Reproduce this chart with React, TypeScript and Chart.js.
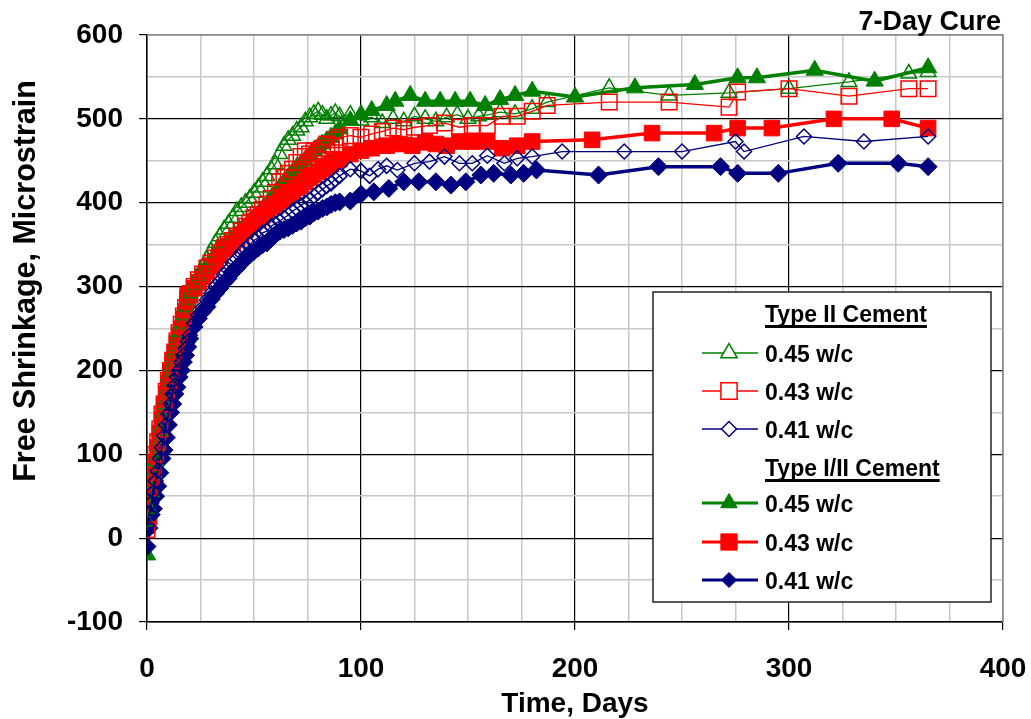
import React, { useEffect, useRef } from 'react';
import { Chart, registerables } from 'chart.js';

Chart.register(...registerables);

// ---------------- DATA ----------------
const earlyDays = [0,1,2,3,4,5,6,7,8,9,10,11,12,13,14,15,16,17,18,19,20,22,24,26,28,30,32,34,36,38,40,42,44,46,48,50,52,54,56,58,60,62,64,66,68,70,72,74,76,78,80,82,84,86,88,90];

// Type II Cement, 0.45 w/c (open triangle)
const t2_045_days = [...earlyDays, 95,100,105,110,115,120,125,130,135,140,145,150,155,160,165,172,180,187,216,244,272,300,328,356,365];
const t2_045_vals = [20,35,55,75,92,110,128,145,160,175,190,202,214,225,236,246,256,266,276,285,292,
  302,312,322,332,342,352,360,368,375,382,390,395,400,405,412,418,425,432,440,446,458,468,475,480,486,490,497,502,506,509,505,500,504,507,503,
  505,498,502,495,500,497,503,500,497,502,505,500,503,505,508,506,512,520,537,528,531,536,544,554,556];

// Type II Cement, 0.43 w/c (open square)
const t2_043_days = [...earlyDays, 95,100,105,110,115,120,125,132,139,146,152,159,166,173,180,187,216,244,272,276,300,328,356,365];
const t2_043_vals = [10,60,72,82,100,115,130,148,160,175,188,200,212,222,235,245,255,265,275,285,290,
  300,308,315,322,328,334,340,346,350,355,360,366,372,376,382,386,392,398,405,412,425,430,435,440,448,455,462,458,462,460,465,470,468,475,478,
  480,478,482,485,489,487,490,492,495,490,492,492,503,503,509,516,520,520,514,532,536,527,536,536];

// Type II Cement, 0.41 w/c (open diamond)
const t2_041_days = [...earlyDays, 95,100,104,108,112,117,125,132,139,146,152,159,167,173,180,194,223,250,275,279,307,335,365];
const t2_041_vals = [15,30,42,55,68,80,95,108,122,135,148,160,172,182,192,200,210,218,226,234,242,
  256,266,275,284,292,300,306,314,320,328,333,340,345,350,355,358,364,366,372,375,378,382,385,390,393,397,400,403,408,412,416,420,423,428,432,
  440,438,432,440,444,439,447,449,455,447,447,456,447,453,455,461,461,461,473,461,479,473,479];

// Type I/II Cement, 0.45 w/c (filled triangle)
const t12_045_days = [...earlyDays, 95,100,105,112,116,123,130,137,144,151,158,165,172,180,200,228,256,276,285,312,340,365];
const t12_045_vals = [-20,30,50,70,88,105,122,140,155,170,182,195,207,218,228,240,250,258,268,280,288,
  295,302,310,316,322,328,335,342,348,352,358,365,370,376,382,386,392,398,405,412,418,424,430,436,442,446,450,456,462,466,470,474,478,482,488,
  498,505,510,516,521,528,521,521,521,521,516,523,528,533,526,537,541,549,549,558,545,561];

// Type I/II Cement, 0.43 w/c (filled square)
const t12_043_days = [...earlyDays, 95,100,105,112,118,124,130,135,140,146,152,159,166,173,180,208,236,265,276,292,321,348,365];
const t12_043_vals = [15,25,55,75,90,108,125,142,158,172,185,198,210,220,232,242,250,262,270,290,292,
  298,305,312,318,325,330,338,345,348,352,358,362,368,372,378,380,385,390,395,398,402,405,410,413,418,420,425,430,433,437,440,443,446,450,452,
  458,462,465,468,470,468,472,470,468,473,473,473,465,468,473,475,483,483,489,489,500,500,489];

// Type I/II Cement, 0.41 w/c (filled diamond)
const t12_041_days = [...earlyDays, 95,100,106,113,120,127,135,142,149,156,162,170,176,182,211,239,268,276,295,323,351,365];
const t12_041_vals = [-10,12,28,35,50,62,78,95,105,120,135,150,160,172,180,192,200,210,218,228,238,
  252,262,270,276,285,292,298,305,310,318,322,328,333,338,342,346,350,352,358,362,366,368,370,373,376,378,382,384,388,390,393,395,398,400,401,
  402,410,413,417,425,425,425,421,425,433,435,433,435,439,433,443,443,435,435,447,447,443];

const seriesLabels = ['0.45 w/c', '0.43 w/c', '0.41 w/c'];
const groupHeaders = ['Type II Cement', 'Type I/II Cement'];
const chartTitle = '7-Day Cure';
const xTitle = 'Time, Days';
const yTitle = 'Free Shrinkage, Microstrain';

// ---------------- STYLE ----------------
const GREEN = '#008000';
const RED = '#FF0000';
const NAVY = '#000080';
const FONT = '"Liberation Sans", Arial, Helvetica, sans-serif';

const toPts = (d: number[], v: number[]) => d.map((x, i) => ({ x, y: v[i] }));

type Sty = { color: string; style: string; filled: boolean; r: number; lw: number };
const styles: Sty[] = [
  { color: GREEN, style: 'triangle', filled: false, r: 9, lw: 1.3 },
  { color: RED, style: 'rect', filled: false, r: 11, lw: 1.3 },
  { color: NAVY, style: 'rectRot', filled: false, r: 7.5, lw: 1.3 },
  { color: GREEN, style: 'triangle', filled: true, r: 10, lw: 3.5 },
  { color: RED, style: 'rect', filled: true, r: 11, lw: 3.5 },
  { color: NAVY, style: 'rectRot', filled: true, r: 9, lw: 3.5 },
];
const drawOrder = [2, 1, 0, 5, 4, 3];

function drawMarker(ctx: CanvasRenderingContext2D, s: Sty, x: number, y: number) {
  ctx.beginPath();
  const r = s.r;
  if (s.style === 'triangle') {
    for (let k = 0; k < 3; k++) {
      const a = (k * 2 * Math.PI) / 3;
      const px = x + Math.sin(a) * r;
      const py = y - Math.cos(a) * r;
      if (k === 0) ctx.moveTo(px, py); else ctx.lineTo(px, py);
    }
    ctx.closePath();
  } else if (s.style === 'rect') {
    const h = Math.SQRT1_2 * r;
    ctx.rect(x - h, y - h, 2 * h, 2 * h);
  } else {
    ctx.moveTo(x - r, y);
    ctx.lineTo(x, y - r);
    ctx.lineTo(x + r, y);
    ctx.lineTo(x, y + r);
    ctx.closePath();
  }
  ctx.fillStyle = s.filled ? s.color : '#fff';
  ctx.fill();
  ctx.strokeStyle = s.color;
  ctx.lineWidth = s.filled ? 1 : 1.5;
  ctx.stroke();
}

const overlayPlugin = {
  id: 'overlay',
  afterDraw(chart: any) {
    const ctx: CanvasRenderingContext2D = chart.ctx;
    const area = chart.chartArea;
    ctx.save();
    // plot frame top/right
    ctx.strokeStyle = '#8c8c8c';
    ctx.lineWidth = 1.5;
    ctx.beginPath();
    ctx.moveTo(area.left, area.top);
    ctx.lineTo(area.right, area.top);
    ctx.lineTo(area.right, area.bottom);
    ctx.stroke();

    ctx.fillStyle = '#000';
    // title
    ctx.font = `bold 27px ${FONT}`;
    ctx.textAlign = 'right';
    ctx.textBaseline = 'alphabetic';
    ctx.fillText(chartTitle, 1001, 30);
    // x title
    ctx.font = `bold 28px ${FONT}`;
    ctx.textAlign = 'center';
    ctx.fillText(xTitle, (area.left + area.right) / 2, 712);
    // y title
    ctx.save();
    ctx.translate(35, 281);
    ctx.rotate(-Math.PI / 2);
    ctx.font = `bold 30.5px ${FONT}`;
    ctx.textAlign = 'center';
    ctx.fillText(yTitle, 0, 0);
    ctx.restore();

    // legend box
    const bx = 653, by = 292, bw = 338, bh = 310;
    ctx.fillStyle = '#fff';
    ctx.fillRect(bx, by, bw, bh);
    ctx.strokeStyle = '#222';
    ctx.lineWidth = 1.5;
    ctx.strokeRect(bx, by, bw, bh);

    const textX = 765;
    const lineX0 = 702, lineX1 = 758, markX = 729;
    ctx.font = `bold 23px ${FONT}`;
    ctx.textAlign = 'left';
    ctx.textBaseline = 'alphabetic';
    const headerBase = [322, 476];
    const underlineY = [326.5, 480.5];
    const rowBase = [[361.5, 399.5, 437.5], [511.5, 550.5, 588.5]];
    for (let g = 0; g < 2; g++) {
      ctx.fillStyle = '#000';
      ctx.fillText(groupHeaders[g], textX, headerBase[g]);
      const w = ctx.measureText(groupHeaders[g]).width;
      ctx.fillRect(textX, underlineY[g] - 1.5, w, 3);
      for (let k = 0; k < 3; k++) {
        const s = styles[g * 3 + k];
        const yb = rowBase[g][k];
        const yc = yb - 8.5;
        ctx.strokeStyle = s.color;
        ctx.lineWidth = s.filled ? 3 : 1.5;
        ctx.beginPath();
        ctx.moveTo(lineX0, yc);
        ctx.lineTo(lineX1, yc);
        ctx.stroke();
        drawMarker(ctx, { ...s, r: s.style === 'rect' ? 11.5 : s.style === 'rectRot' ? 7.5 : 9.5 }, markX, yc);
        ctx.fillStyle = '#000';
        ctx.fillText(seriesLabels[k], textX, yb);
      }
    }
    ctx.restore();
  },
};

const groupNames = ['Type II', 'Type I/II'];
const allDays = [t2_045_days, t2_043_days, t2_041_days, t12_045_days, t12_043_days, t12_041_days];
const allVals = [t2_045_vals, t2_043_vals, t2_041_vals, t12_045_vals, t12_043_vals, t12_041_vals];

export default function App() {
  const ref = useRef<HTMLCanvasElement>(null);
  useEffect(() => {
    if (!ref.current) return;
    const datasets = styles.map((s, i) => ({
      label: `${groupNames[Math.floor(i / 3)]} ${seriesLabels[i % 3]}`,
      data: toPts(allDays[i], allVals[i]),
      showLine: true,
      borderColor: s.color,
      borderWidth: s.lw,
      backgroundColor: s.filled ? s.color : 'rgba(0,0,0,0)',
      pointStyle: s.style,
      pointRadius: s.r,
      pointBorderColor: s.color,
      pointBackgroundColor: s.filled ? s.color : 'rgba(0,0,0,0)',
      pointBorderWidth: s.filled ? 1 : 1.5,
      tension: 0,
      order: drawOrder[i],
    }));
    const tickFont = { family: FONT, size: 28, weight: 'bold' as const };
    const chart = new Chart(ref.current, {
      type: 'scatter',
      data: { datasets },
      options: {
        responsive: false,
        animation: false,
        devicePixelRatio: 1,
        layout: { padding: { top: 35, right: 28, left: 0, bottom: 0 } },
        plugins: { legend: { display: false }, tooltip: { enabled: false }, title: { display: false } },
        scales: {
          x: {
            type: 'linear',
            min: 0,
            max: 400,
            afterFit: (s: any) => { s.height = 97; s.paddingLeft = 0; s.paddingRight = 0; },
            ticks: {
              stepSize: 25,
              autoSkip: false,
              maxRotation: 0,
              font: tickFont,
              color: '#000',
              padding: 22,
              callback: (v: any) => (Number(v) % 100 === 0 ? String(v) : ''),
            },
            grid: {
              color: (c: any) => {
                const v = c.tick?.value;
                if (v === 400) return '#8c8c8c';
                return v % 100 === 0 ? '#000' : '#c8c8c8';
              },
              lineWidth: (c: any) => (c.tick?.value % 100 === 0 ? 1.2 : 1.5),
              tickColor: (c: any) => (c.tick?.value % 100 === 0 ? '#000' : 'rgba(0,0,0,0)'),
              tickLength: 8,
            },
            border: { display: true, color: '#000', width: 1.5 },
          },
          y: {
            type: 'linear',
            min: -100,
            max: 600,
            afterFit: (s: any) => { s.width = 147; s.paddingTop = 0; s.paddingBottom = 0; },
            ticks: {
              stepSize: 50,
              autoSkip: false,
              font: tickFont,
              color: '#000',
              padding: 16,
              callback: (v: any) => (Number(v) % 100 === 0 ? String(v) : ''),
            },
            grid: {
              color: (c: any) => {
                const v = c.tick?.value;
                if (v === 600) return '#8c8c8c';
                return v % 100 === 0 ? '#000' : '#c8c8c8';
              },
              lineWidth: (c: any) => (c.tick?.value % 100 === 0 ? 1.2 : 1.5),
              tickColor: (c: any) => (c.tick?.value % 100 === 0 ? '#000' : 'rgba(0,0,0,0)'),
              tickLength: 8,
            },
            border: { display: true, color: '#000', width: 1.5 },
          },
        },
      },
      plugins: [overlayPlugin],
    } as any);
    return () => chart.destroy();
  }, []);
  return (
    <div style={{ position: 'absolute', left: 0, top: 0, width: 1031, height: 719, background: '#fff' }}>
      <canvas ref={ref} width={1031} height={719} style={{ width: 1031, height: 719, display: 'block' }} />
    </div>
  );
}
